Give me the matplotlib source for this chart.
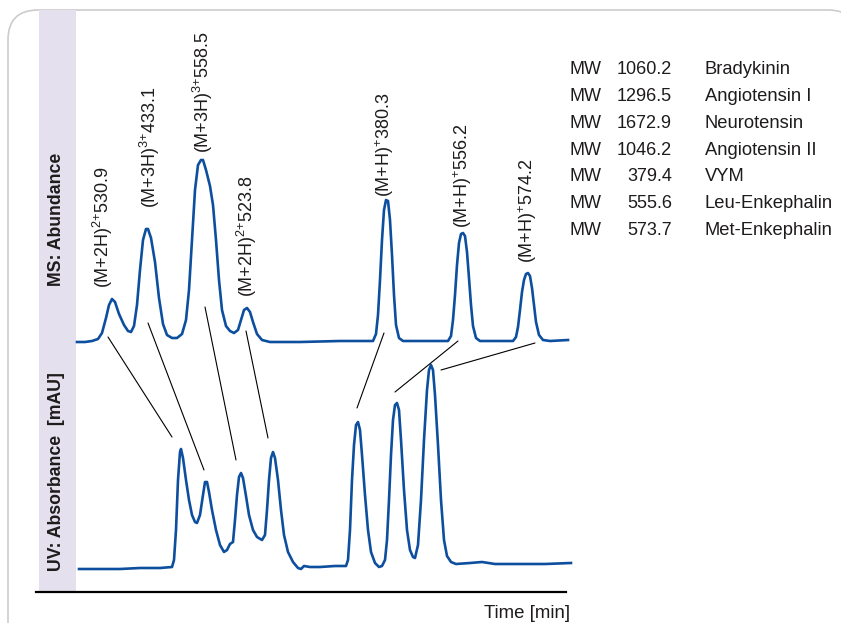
"""UV and MS chromatograms of a peptide standard, with the peak assignments."""
import matplotlib
matplotlib.use("Agg")
import matplotlib.pyplot as plt
from matplotlib.patches import FancyBboxPatch, ConnectionPatch

plt.rcParams.update({
    "font.family": ["Liberation Sans", "DejaVu Sans"],
    "mathtext.fontset": "custom",
    "mathtext.rm": "Liberation Sans",
    "mathtext.it": "Liberation Sans",
})
BLUE = "#0D4F9E"; LAV = "#E5E0EE"; INK = "#1E1B1C"; FRAME = "#CCCCCC"

# ---- data: time [min], MS abundance, UV absorbance (arbitrary units) ----
ms_time = [3.08, 3.40, 3.68, 3.92, 4.08, 4.24, 4.36, 4.48, 4.60, 4.76, 4.96, 5.12, 5.24, 5.36,
           5.48, 5.60, 5.72, 5.84, 5.92, 6.04, 6.20, 6.36, 6.52, 6.68, 6.88, 7.08, 7.28, 7.44,
           7.56, 7.68, 7.80, 7.92, 8.04, 8.12, 8.24, 8.40, 8.52, 8.64, 8.76, 8.88, 9.04, 9.20,
           9.36, 9.52, 9.64, 9.76, 9.88, 10.00, 10.12, 10.28, 10.48, 10.80, 12.00, 13.60, 14.60,
           14.92, 15.04, 15.12, 15.20, 15.28, 15.36, 15.44, 15.52, 15.60, 15.68, 15.76, 15.84,
           15.96, 16.12, 16.80, 17.92, 18.04, 18.12, 18.20, 18.28, 18.36, 18.44, 18.52, 18.60,
           18.68, 18.76, 18.84, 18.92, 19.04, 19.20, 20.00, 20.52, 20.64, 20.72, 20.80, 20.88,
           20.96, 21.04, 21.12, 21.20, 21.28, 21.36, 21.44, 21.56, 21.72, 22.00, 22.72]
ms_abund = [0, 0, 1, 3, 9, 24, 37, 43, 40, 28, 17, 11, 10, 16,
            37, 72, 102, 113, 113, 104, 80, 44, 18, 7, 4, 4, 8, 22,
            52, 102, 152, 177, 182, 182, 172, 156, 137, 102, 62, 32, 16, 11,
            9, 12, 22, 32, 34, 30, 20, 8, 2, 0, 0, 1, 1,
            1, 8, 27, 62, 102, 132, 142, 141, 122, 87, 47, 17,
            4, 1, 1, 1, 6, 22, 47, 77, 99, 108, 109, 106,
            90, 64, 37, 16, 4, 1, 1, 1, 5, 15, 32, 50,
            62, 68, 69, 66, 54, 37, 20, 7, 2, 1, 2]

uv_time = [3.16, 4.00, 4.80, 5.60, 6.40, 6.88, 6.96, 7.04, 7.12, 7.20, 7.24, 7.32, 7.44, 7.56,
           7.68, 7.80, 7.88, 8.00, 8.12, 8.20, 8.28, 8.36, 8.48, 8.64, 8.80, 8.96, 9.08, 9.20,
           9.32, 9.40, 9.48, 9.56, 9.64, 9.72, 9.84, 9.96, 10.12, 10.28, 10.48, 10.60, 10.68,
           10.76, 10.84, 10.92, 11.00, 11.12, 11.24, 11.36, 11.52, 11.72, 11.92, 12.04, 12.16,
           12.40, 12.80, 13.40, 13.84, 13.92, 14.00, 14.08, 14.16, 14.24, 14.32, 14.40, 14.48,
           14.60, 14.72, 14.84, 15.00, 15.16, 15.28, 15.40, 15.48, 15.56, 15.64, 15.72, 15.80,
           15.88, 15.96, 16.04, 16.16, 16.28, 16.40, 16.52, 16.60, 16.72, 16.84, 16.96, 17.08,
           17.16, 17.24, 17.32, 17.40, 17.52, 17.64, 17.76, 17.88, 18.04, 18.24, 18.80, 19.28,
           19.80, 20.80, 21.80, 22.84]
uv_mau = [1, 1, 1, 2, 2, 3, 10, 40, 90, 118, 121, 112, 90, 70,
          55, 48, 47, 55, 75, 88, 88, 78, 60, 40, 25, 18, 20, 26,
          28, 50, 75, 93, 97, 92, 74, 55, 40, 33, 30, 35, 60,
          90, 112, 118, 112, 90, 60, 35, 18, 8, 2, 1, 4,
          3, 3, 4, 4, 10, 40, 90, 125, 145, 148, 140, 115,
          75, 40, 18, 7, 3, 4, 10, 30, 70, 115, 150, 165,
          167, 160, 130, 80, 40, 20, 13, 12, 25, 70, 130, 180,
          200, 205, 200, 175, 125, 70, 30, 14, 8, 6, 7, 8,
          6, 6, 6, 7]

# peak assignments: label position on the MS trace
ion_labels = [r"(M+2H)$^{2{+}}$530.9", r"(M+3H)$^{3{+}}$433.1",
              r"(M+3H)$^{3{+}}$558.5", r"(M+2H)$^{2{+}}$523.8",
              r"(M+H)$^{{+}}$380.3", r"(M+H)$^{{+}}$556.2",
              r"(M+H)$^{{+}}$574.2"]
ion_time = [4.12, 5.98, 8.12, 9.88, 15.40, 18.52, 21.12]
ion_abund = [54, 134, 189, 45, 145, 114, 79]

# connector lines MS peak -> UV peak
link_ms_time = [4.32, 5.92, 8.20, 9.84, 15.36, 18.32, 21.40]
link_ms_abund = [5, 19, 35, 11, 9, 1, -1]
link_uv_time = [6.88, 8.16, 9.44, 10.72, 14.28, 15.80, 17.64]
link_uv_mau = [133, 100, 110, 132, 162, 178, 200]

mw_values = ["1060.2", "1296.5", "1672.9", "1046.2", "379.4", "555.6", "573.7"]
peptides = ["Bradykinin", "Angiotensin I", "Neurotensin", "Angiotensin II", "VYM",
            "Leu-Enkephalin", "Met-Enkephalin"]

W, H = 841, 623
fig = plt.figure(figsize=(W / 100, H / 100), dpi=100)

# background frame (pixel coordinates)
frame = fig.add_axes([0, 0, 1, 1], zorder=-1)
frame.set_xlim(0, W); frame.set_ylim(H, 0); frame.axis("off")
frame.add_patch(FancyBboxPatch((8, 10), 850, 650, boxstyle="round,pad=0,rounding_size=30",
                               fc="white", ec=FRAME, lw=1.2))
px = frame.transData

left, right = 36, 566
ax_ms = fig.add_axes([left / W, (H - 350) / H, (right - left) / W, 340 / H])
ax_uv = fig.add_axes([left / W, (H - 592) / H, (right - left) / W, 242 / H])
for ax in (ax_ms, ax_uv):
    ax.set_xlim(1.44, 22.64)
    ax.set_facecolor("none")
    ax.set_xticks([]); ax.set_yticks([])
    for s in ax.spines.values():
        s.set_visible(False)
    ax.axvspan(1.56, 3.04, color=LAV, lw=0, zorder=0)
ax_ms.set_ylim(-8, 332)
ax_uv.set_ylim(-22, 220)
ax_uv.spines["bottom"].set_visible(True)
ax_uv.spines["bottom"].set_linewidth(1.6)
ax_uv.spines["bottom"].set_color("black")

ax_ms.plot(ms_time, ms_abund, color=BLUE, lw=1.9, clip_on=False, solid_joinstyle="round")
ax_uv.plot(uv_time, uv_mau, color=BLUE, lw=1.9, clip_on=False, solid_joinstyle="round")

for lab, t, a in zip(ion_labels, ion_time, ion_abund):
    ax_ms.text(t, a, lab, rotation=90, ha="center", va="bottom", fontsize=13, color=INK)

for tm, am, tu, au in zip(link_ms_time, link_ms_abund, link_uv_time, link_uv_mau):
    fig.add_artist(ConnectionPatch(xyA=(tm, am), coordsA=ax_ms.transData,
                                   xyB=(tu, au), coordsB=ax_uv.transData,
                                   color="black", lw=0.8))

# axis titles inside the lavender strip
fig.text(57, 219, "MS: Abundance", rotation=90, ha="center", va="center",
         fontsize=12.7, fontweight="bold", color=INK, transform=px)
fig.text(57, 472, "UV: Absorbance  [mAU]", rotation=90, ha="center", va="center",
         fontsize=12.7, fontweight="bold", color=INK, transform=px)
fig.text(570, 613, "Time [min]", ha="right", va="center", fontsize=13.4, color=INK, transform=px)

# compound table
for i, (mw, name) in enumerate(zip(mw_values, peptides)):
    y = 70 + i * 26.7
    fig.text(570, y, "MW", ha="left", va="center", fontsize=13, color=INK, transform=px)
    fig.text(672, y, mw, ha="right", va="center", fontsize=13, color=INK, transform=px)
    fig.text(705, y, name, ha="left", va="center", fontsize=13.2, color=INK, transform=px)

fig.savefig("out.png", dpi=100)
